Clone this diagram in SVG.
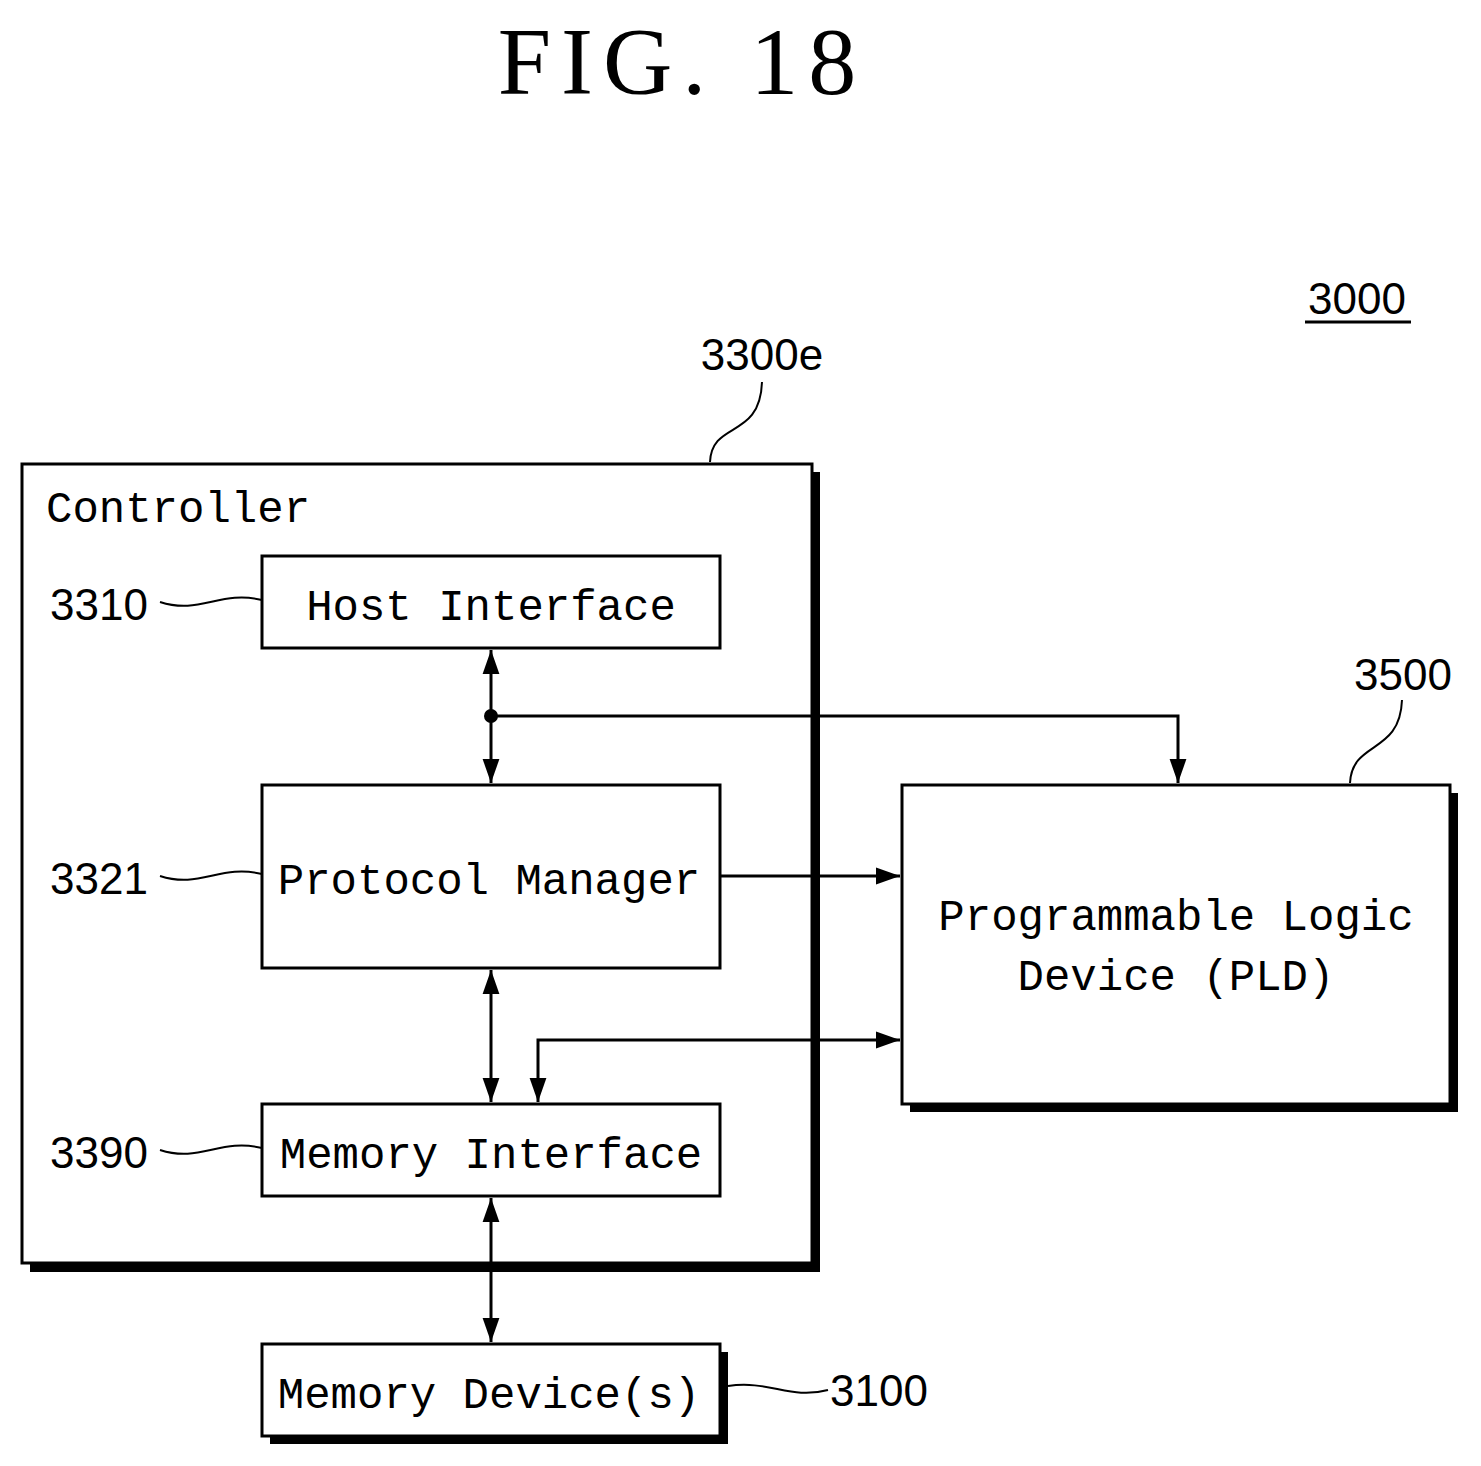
<svg xmlns="http://www.w3.org/2000/svg" width="1481" height="1466" viewBox="0 0 1481 1466">
<defs>
<marker id="a" viewBox="0 0 10 10" refX="10" refY="5" markerWidth="24" markerHeight="24" markerUnits="userSpaceOnUse" orient="auto-start-reverse"><path d="M0,1.5 L10,5 L0,8.5 z" fill="#000"/></marker>
<style>
.b{fill:#fff;stroke:#000;stroke-width:3}
.s{fill:#000}
.t{font-family:"Liberation Mono",monospace;font-size:44px;fill:#000}
.n{font-family:"Liberation Sans",sans-serif;font-size:44px;fill:#000}
.c{fill:none;stroke:#000;stroke-width:3}
.l{fill:none;stroke:#000;stroke-width:2}
</style>
</defs>
<rect width="1481" height="1466" fill="#fff"/>
<text x="682" y="94" text-anchor="middle" style="font-family:'Liberation Serif',serif;font-size:96px;letter-spacing:10px">FIG. 18</text>
<text x="1357" y="314" text-anchor="middle" class="n">3000</text>
<line x1="1305" y1="322" x2="1411" y2="322" stroke="#000" stroke-width="3"/>
<g id="controller">
<rect x="30" y="472" width="790" height="800" class="s"/>
<rect x="22" y="464" width="790" height="799" class="b"/>
<text x="46" y="522" class="t">Controller</text>
<text x="762" y="370" text-anchor="middle" class="n">3300e</text>
<path d="M710,462 C712,420 760,440 762,382" class="l"/>
</g>
<g id="host"><rect x="262" y="556" width="458" height="92" class="b"/><text x="491" y="620" text-anchor="middle" class="t">Host Interface</text>
<text x="50" y="620" class="n">3310</text><path d="M160,602 C200,615 220,590 262,600" class="l"/></g>
<g id="pm"><rect x="262" y="785" width="458" height="183" class="b"/><text x="489" y="894" text-anchor="middle" class="t">Protocol Manager</text>
<text x="50" y="894" class="n">3321</text><path d="M160,876 C200,889 220,864 262,874" class="l"/></g>
<g id="mi"><rect x="262" y="1104" width="458" height="92" class="b"/><text x="491" y="1168" text-anchor="middle" class="t">Memory Interface</text>
<text x="50" y="1168" class="n">3390</text><path d="M160,1150 C200,1163 220,1138 262,1148" class="l"/></g>
<g id="md"><rect x="270" y="1352" width="458" height="92" class="s"/><rect x="262" y="1344" width="458" height="92" class="b"/><text x="489" y="1408" text-anchor="middle" class="t">Memory Device(s)</text>
<text x="830" y="1406" class="n">3100</text><path d="M728,1386 C770,1380 790,1400 828,1390" class="l"/></g>
<g id="pld"><rect x="910" y="793" width="548" height="319" class="s"/><rect x="902" y="785" width="548" height="319" class="b"/>
<text x="1176" y="930" text-anchor="middle" class="t">Programmable Logic</text><text x="1176" y="990" text-anchor="middle" class="t">Device (PLD)</text>
<text x="1403" y="690" text-anchor="middle" class="n">3500</text><path d="M1350,783 C1352,740 1400,755 1402,700" class="l"/></g>
<g id="connectors">
<line x1="491" y1="650" x2="491" y2="783" class="c" marker-start="url(#a)" marker-end="url(#a)"/>
<circle cx="491" cy="716" r="7"/>
<polyline points="491,716 1178,716 1178,783" class="c" marker-end="url(#a)"/>
<line x1="720" y1="876" x2="900" y2="876" class="c" marker-end="url(#a)"/>
<line x1="491" y1="970" x2="491" y2="1102" class="c" marker-start="url(#a)" marker-end="url(#a)"/>
<polyline points="900,1040 538,1040 538,1102" class="c" marker-start="url(#a)" marker-end="url(#a)"/>
<line x1="491" y1="1198" x2="491" y2="1342" class="c" marker-start="url(#a)" marker-end="url(#a)"/>
</g>
</svg>
